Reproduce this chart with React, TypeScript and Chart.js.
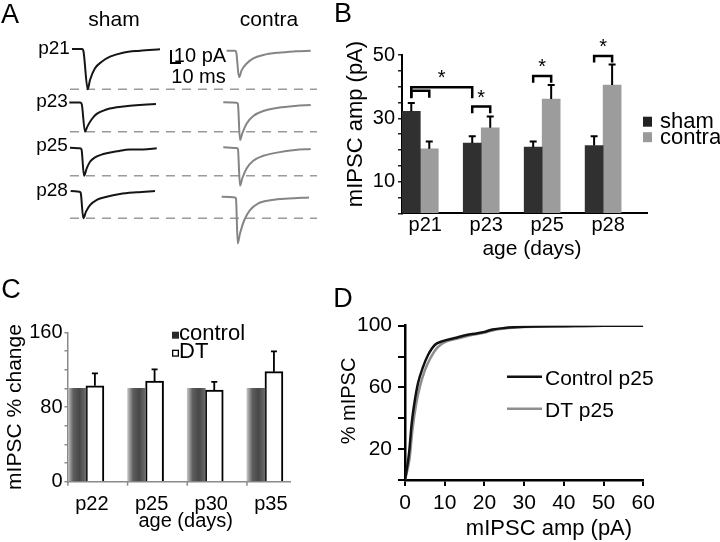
import React, { useEffect, useRef } from "react";
import { Chart, registerables } from "chart.js";

Chart.register(...registerables);

const FONT = '"Liberation Sans", Arial, Helvetica, sans-serif';
Chart.defaults.font.family = FONT;

// ---------------- Panel A: example mIPSC traces ----------------
// [time from trace start (ms), current relative to baseline (pA)]
type Pt = [number, number];
const traceRows = ["p21", "p23", "p25", "p28"];
const shamP21: Pt[] = [[0, 0], [10, 0], [11.5, -1.9], [15.7, -31], [18, -23.8], [23, -14.8], [29.7, -9.8], [38, -5.9], [51, -2.8], [68, -1.3], [88, -0.2]];
const shamP23: Pt[] = [[0, 0], [10.7, 0], [12.4, -1.2], [15.7, -22.5], [18, -18.6], [22.4, -12.9], [27.4, -8.8], [35.7, -5.8], [47.4, -3.7], [60.7, -2.5], [74, -1.7], [86.7, -1.2]];
const shamP25: Pt[] = [[0, 0], [10, -0.3], [11.5, -1.2], [14, -21.5], [16.7, -15.8], [20, -10.7], [25, -7.3], [33.3, -4.8], [46.7, -2.7], [60, -1.2], [73.3, -1.2], [86.7, -0.4]];
const shamP28: Pt[] = [[0, 0], [8.6, -0.5], [10, -1.5], [12.6, -21], [15.3, -15.9], [19.3, -10.8], [26, -6.9], [36, -4.4], [49.3, -2.3], [66, -1], [84.3, 0]];
const contraP21: Pt[] = [[0, 0], [8.3, 0], [9.5, -1], [12.3, -20.5], [15, -14.9], [20, -9.8], [26.6, -5.9], [36.6, -3.3], [51.6, -1.5], [68.3, -0.5], [84, 0]];
const contraP23: Pt[] = [[0, 0], [13.4, -0.3], [14.6, -1.2], [16.7, -29], [19, -23.8], [23.4, -16.2], [30, -10.5], [40, -6.7], [55, -4.2], [71.7, -2.8], [87.4, -2.1]];
const contraP25: Pt[] = [[0, 0], [13.4, -0.5], [14.6, -1.2], [16.7, -29.5], [19, -23.8], [23.4, -16.1], [30, -10.3], [40, -6.5], [55, -3.9], [71.7, -2.1], [87.4, -1.3]];
const contraP28: Pt[] = [[0, 0], [13.3, -0.5], [14.3, -1.5], [16, -35.9], [18.3, -28.2], [22.6, -17.9], [28.3, -10.3], [36.6, -5.1], [50, -2.5], [66.6, -1.3], [87.3, -0.5]];
const shamTraces = [shamP21, shamP23, shamP25, shamP28];
const contraTraces = [contraP21, contraP23, contraP25, contraP28];
const scaleBarMs = 10;
const scaleBarPA = 10;

// ---------------- Panel B ----------------
const ageB = ["p21", "p23", "p25", "p28"];
const shamAmp = [32.2, 22.2, 20.9, 21.4];
const shamSem = [2.6, 2.1, 1.8, 2.9];
const contraAmp = [20.4, 27.0, 36.1, 40.5];
const contraSem = [2.3, 3.6, 4.4, 6.5];
const yTickLabelsB = [10, 30, 50];
// significance brackets: [dataset, index] -> [dataset, index], bracket top and leg end (pA)
const sigBrackets = [
  { from: [0, 0], to: [1, 0], top: 38.7, leg: 36.5, star: false },
  { from: [0, 0], to: [0, 1], top: 39.8, leg: 36.3, star: true },
  { from: [0, 1], to: [1, 1], top: 33.7, leg: 31.6, star: true },
  { from: [0, 2], to: [1, 2], top: 43.4, leg: 41.2, star: true },
  { from: [0, 3], to: [1, 3], top: 49.7, leg: 47.6, star: true },
];

// ---------------- Panel C ----------------
const ageC = ["p22", "p25", "p30", "p35"];
const controlPct = [100, 100, 100, 100];
const dtPct = [102.8, 107.8, 98.2, 117.8];
const dtSem = [13.2, 12.5, 8.8, 21.8];
const yTickLabelsC = [0, 80, 160];

// ---------------- Panel D ----------------
const controlAmpD = [0, 1, 1.7, 2.5, 3.3, 4.5, 5.8, 7.5, 9.5, 12.5, 15.5, 18, 20, 22, 25, 30, 40, 50, 60];
const controlCum = [0, 17, 37, 52, 63, 73, 81, 87.5, 90, 92, 94, 95, 96, 97.5, 98.5, 99.3, 99.7, 100, 100];
const dtAmpD = [0, 1.1, 1.9, 2.8, 3.7, 5, 6.4, 8.2, 10.2, 13, 16, 18.5, 20.5, 22.5, 25.5, 30, 40, 50, 60];
const dtCum = [0, 13, 33, 49, 60, 71, 79, 86, 89.5, 91.5, 93.5, 94.8, 95.8, 97.2, 98.3, 99.2, 99.6, 99.9, 100];
const yTickLabelsD = [20, 60, 100];

// ---------------- layout (not data) ----------------
const shamStartMs = [72, 69.3, 70, 70.7];
const contraStartMs = [226.7, 223.3, 223.3, 221.7];
const shamBasePA = [-37.7, -78.8, -113.7, -146.9];
const contraBasePA = [-39, -78.7, -113.3, -151.3];
const dashFromMs = 70;
const dashToMs = 317;
const scaleBarOrigin = { x: 171, y: -48.5 };
const BAR_W = 18;

// ---------------- plugins ----------------
const errorBarPlugin = {
  id: "errorBars",
  afterDatasetsDraw(chart: any, _a: any, opts: any) {
    if (!opts || !opts.series) return;
    const ctx = chart.ctx;
    const ys = chart.scales.y;
    ctx.save();
    ctx.strokeStyle = opts.color || "#000";
    ctx.lineWidth = opts.width || 2;
    opts.series.forEach((s: any) => {
      const meta = chart.getDatasetMeta(s.dataset);
      const data = chart.data.datasets[s.dataset].data;
      meta.data.forEach((el: any, i: number) => {
        const top = ys.getPixelForValue(data[i].y + s.sem[i]);
        ctx.beginPath();
        ctx.moveTo(el.x, el.y);
        ctx.lineTo(el.x, top);
        ctx.moveTo(el.x - opts.cap / 2, top);
        ctx.lineTo(el.x + opts.cap / 2, top);
        ctx.stroke();
      });
    });
    ctx.restore();
  },
};

const bracketPlugin = {
  id: "sigBrackets",
  afterDatasetsDraw(chart: any, _a: any, opts: any) {
    if (!opts || !opts.items) return;
    const ctx = chart.ctx;
    const ys = chart.scales.y;
    ctx.save();
    ctx.strokeStyle = "#000";
    ctx.fillStyle = "#000";
    ctx.lineWidth = 2.5;
    ctx.lineJoin = "miter";
    ctx.font = `20px ${FONT}`;
    ctx.textAlign = "center";
    ctx.textBaseline = "alphabetic";
    opts.items.forEach((b: any) => {
      const xa = chart.getDatasetMeta(b.from[0]).data[b.from[1]].x;
      const xb = chart.getDatasetMeta(b.to[0]).data[b.to[1]].x;
      const yt = ys.getPixelForValue(b.top);
      const yl = ys.getPixelForValue(b.leg);
      ctx.beginPath();
      ctx.moveTo(xa, yl);
      ctx.lineTo(xa, yt);
      ctx.lineTo(xb, yt);
      ctx.lineTo(xb, yl);
      ctx.stroke();
      if (b.star) ctx.fillText("*", (xa + xb) / 2, yt - 3);
    });
    ctx.restore();
  },
};

const legendPlugin = {
  id: "panelLegend",
  afterDraw(chart: any, _a: any, o: any) {
    if (!o || !o.swatches) return;
    const ctx = chart.ctx;
    ctx.save();
    ctx.font = `${o.size}px ${FONT}`;
    ctx.textAlign = "left";
    ctx.textBaseline = "alphabetic";
    chart.data.datasets.forEach((ds: any, i: number) => {
      const sw = o.swatches[i];
      if (!sw) return;
      const base = o.y + i * o.dy;
      if (o.kind === "line") {
        ctx.strokeStyle = sw.stroke;
        ctx.lineWidth = 2.5;
        ctx.beginPath();
        ctx.moveTo(o.x, base - o.rise);
        ctx.lineTo(o.x + o.w, base - o.rise);
        ctx.stroke();
      } else {
        ctx.fillStyle = sw.fill;
        ctx.fillRect(o.x, base - o.rise, o.w, o.h);
        if (sw.stroke) {
          ctx.strokeStyle = sw.stroke;
          ctx.lineWidth = 1.3;
          ctx.strokeRect(o.x + 0.65, base - o.rise + 0.65, o.w - 1.3, o.h - 1.3);
        }
      }
      ctx.fillStyle = "#000";
      ctx.fillText(ds.label, o.textX, base);
    });
    ctx.restore();
  },
};

const groupTickPlugin = {
  id: "groupTicks",
  afterDraw(chart: any, _a: any, o: any) {
    if (!o || !o.enabled) return;
    const ctx = chart.ctx;
    const meta = chart.getDatasetMeta(0);
    const bottom = chart.chartArea.bottom;
    ctx.save();
    ctx.strokeStyle = o.color;
    ctx.lineWidth = 1.5;
    meta.data.forEach((el: any) => {
      const x = el.x - el.width / 2;
      ctx.beginPath();
      ctx.moveTo(x, bottom);
      ctx.lineTo(x, bottom + 4);
      ctx.stroke();
    });
    ctx.restore();
  },
};

// ---------------- chart builders ----------------
function buildA(): any {
  const datasets: any[] = [];
  const traceDs = (pts: Pt[], start: number, base: number, color: string) => ({
    data: pts.map(([t, v]) => ({ x: start + t, y: base + v })),
    borderColor: color,
    borderWidth: 2,
    pointRadius: 0,
    fill: false,
    cubicInterpolationMode: "monotone",
  });
  traceRows.forEach((_, i) => {
    datasets.push(traceDs(shamTraces[i], shamStartMs[i], shamBasePA[i], "#151515"));
    datasets.push(traceDs(contraTraces[i], contraStartMs[i], contraBasePA[i], "#858585"));
  });
  datasets.push({
    data: [
      { x: scaleBarOrigin.x, y: scaleBarOrigin.y + scaleBarPA },
      { x: scaleBarOrigin.x, y: scaleBarOrigin.y },
      { x: scaleBarOrigin.x + scaleBarMs, y: scaleBarOrigin.y },
    ],
    borderColor: "#000",
    borderWidth: 2,
    pointRadius: 0,
    tension: 0,
  });
  traceRows.forEach((_, i) => {
    const level = shamBasePA[i] + Math.min(...shamTraces[i].map((p) => p[1]));
    datasets.push({
      data: [
        { x: dashFromMs, y: level },
        { x: dashToMs, y: level },
      ],
      borderColor: "#9a9a9a",
      borderWidth: 1.5,
      borderDash: [9, 7],
      pointRadius: 0,
    });
  });
  return {
    type: "line",
    data: { datasets },
    options: {
      animation: false,
      responsive: false,
      events: [],
      layout: { padding: 0 },
      plugins: { legend: { display: false }, tooltip: { enabled: false } },
      scales: {
        x: { type: "linear", display: false, min: 0, max: 340 },
        y: { type: "linear", display: false, min: -201.5, max: 0 },
      },
    },
  };
}

function buildB(): any {
  return {
    type: "bar",
    data: {
      datasets: [
        { label: "sham", data: shamAmp.map((y, i) => ({ x: i, y })), backgroundColor: "#303030", barThickness: BAR_W },
        { label: "contra", data: contraAmp.map((y, i) => ({ x: i, y })), backgroundColor: "#9c9c9c", barThickness: BAR_W },
      ],
    },
    options: {
      animation: false,
      responsive: false,
      events: [],
      layout: { padding: { left: 0, right: 73, top: 55, bottom: 0 } },
      plugins: {
        legend: { display: false },
        tooltip: { enabled: false },
        errorBars: {
          series: [
            { dataset: 0, sem: shamSem },
            { dataset: 1, sem: contraSem },
          ],
          cap: 7,
          width: 2,
          color: "#000",
        },
        sigBrackets: { items: sigBrackets },
        panelLegend: {
          kind: "box",
          swatches: [{ fill: "#222" }, { fill: "#9a9a9a" }],
          x: 298,
          y: 128,
          dy: 15.5,
          w: 9,
          h: 10,
          rise: 11.3,
          textX: 315,
          size: 22,
        },
      },
      scales: {
        x: {
          type: "linear",
          min: -0.3,
          max: 3.72,
          offset: false,
          afterBuildTicks: (s: any) => {
            s.ticks = ageB.map((_, i) => ({ value: i }));
          },
          ticks: {
            callback: (v: any) => ageB[Math.round(Number(v))] ?? "",
            font: { size: 20 },
            color: "#000",
            padding: 0,
            labelOffset: 5,
            maxRotation: 0,
            autoSkip: false,
          },
          grid: { display: false, drawTicks: false, offset: false },
          border: { color: "#000", width: 2 },
          afterFit: (s: any) => {
            s.height = 56.7;
          },
        },
        y: {
          min: 0,
          max: 50,
          ticks: {
            stepSize: 5,
            autoSkip: false,
            callback: (v: any) => (yTickLabelsB.includes(Number(v)) ? String(v) : ""),
            font: { size: 20 },
            color: "#000",
            padding: 3,
          },
          grid: { drawOnChartArea: false, tickLength: 4, color: "#222", lineWidth: 1.5 },
          border: { color: "#000", width: 2 },
          afterFit: (s: any) => {
            s.width = 57;
          },
        },
      },
    },
    plugins: [errorBarPlugin, bracketPlugin, legendPlugin],
  };
}

function buildC(): any {
  const controlFill = (c: any) => {
    const chart = c.chart;
    const xs = chart.scales && chart.scales.x;
    if (!xs || c.dataIndex == null || c.type !== "data") return "#555";
    const cx = xs.getPixelForValue(c.dataIndex);
    if (!isFinite(cx)) return "#555";
    const g = chart.ctx.createLinearGradient(cx - BAR_W, 0, cx, 0);
    g.addColorStop(0, "#c2c2c2");
    g.addColorStop(0.3, "#5e5e5e");
    g.addColorStop(0.65, "#474747");
    g.addColorStop(1, "#6c6c6c");
    return g;
  };
  return {
    type: "bar",
    data: {
      datasets: [
        { label: "control", data: controlPct.map((y, i) => ({ x: i, y })), backgroundColor: controlFill, borderWidth: 0, barThickness: BAR_W },
        { label: "DT", data: dtPct.map((y, i) => ({ x: i, y })), backgroundColor: "#fff", borderColor: "#000", borderWidth: 2, barThickness: BAR_W },
      ],
    },
    options: {
      animation: false,
      responsive: false,
      events: [],
      layout: { padding: { left: 0, right: 55, top: 62.3, bottom: 0 } },
      plugins: {
        legend: { display: false },
        tooltip: { enabled: false },
        errorBars: { series: [{ dataset: 1, sem: dtSem }], cap: 6, width: 1.8, color: "#000" },
        groupTicks: { enabled: true, color: "#8a8a8a" },
        panelLegend: {
          kind: "box",
          swatches: [{ fill: "#2a2a2a" }, { fill: "#fff", stroke: "#000" }],
          x: 172,
          y: 70,
          dy: 18,
          w: 7,
          h: 7,
          rise: 8.3,
          textX: 179,
          size: 22,
        },
      },
      scales: {
        x: {
          type: "linear",
          min: -0.3,
          max: 3.42,
          offset: false,
          afterBuildTicks: (s: any) => {
            s.ticks = ageC.map((_, i) => ({ value: i }));
          },
          ticks: {
            callback: (v: any) => ageC[Math.round(Number(v))] ?? "",
            font: { size: 20 },
            color: "#000",
            padding: 11,
            labelOffset: 6,
            maxRotation: 0,
            autoSkip: false,
          },
          grid: { display: false, drawTicks: false, offset: false },
          border: { color: "#8a8a8a", width: 1.5 },
          afterFit: (s: any) => {
            s.height = 60.3;
          },
        },
        y: {
          min: 0,
          max: 160,
          ticks: {
            stepSize: 20,
            autoSkip: false,
            callback: (v: any) => (yTickLabelsC.includes(Number(v)) ? String(v) : ""),
            font: { size: 20 },
            color: "#000",
            padding: 2,
          },
          grid: { drawOnChartArea: false, tickLength: 3.5, color: "#8a8a8a", lineWidth: 1.5 },
          border: { color: "#8a8a8a", width: 1.5 },
          afterFit: (s: any) => {
            s.width = 68;
          },
        },
      },
    },
    plugins: [errorBarPlugin, groupTickPlugin, legendPlugin],
  };
}

function buildD(): any {
  return {
    type: "line",
    data: {
      datasets: [
        {
          label: "Control p25",
          data: controlAmpD.map((x, i) => ({ x, y: controlCum[i] })),
          borderColor: "#111",
          borderWidth: 2.5,
          pointRadius: 0,
          cubicInterpolationMode: "monotone",
        },
        {
          label: "DT p25",
          data: dtAmpD.map((x, i) => ({ x, y: dtCum[i] })),
          borderColor: "#8e8e8e",
          borderWidth: 2.5,
          pointRadius: 0,
          cubicInterpolationMode: "monotone",
        },
      ],
    },
    options: {
      animation: false,
      responsive: false,
      events: [],
      layout: { padding: { left: 0, right: 76.7, top: 55.7, bottom: 0 } },
      plugins: {
        legend: { display: false },
        tooltip: { enabled: false },
        panelLegend: {
          kind: "line",
          swatches: [{ stroke: "#111" }, { stroke: "#8e8e8e" }],
          x: 162,
          y: 115,
          dy: 32,
          w: 35,
          rise: 8.3,
          textX: 200,
          size: 21,
        },
      },
      scales: {
        x: {
          type: "linear",
          min: 0,
          max: 60,
          ticks: { stepSize: 10, font: { size: 21 }, color: "#000", padding: 5, maxRotation: 0, autoSkip: false },
          grid: { drawOnChartArea: false, tickLength: 6, color: "#000", lineWidth: 2 },
          border: { color: "#000", width: 2.5 },
          afterFit: (s: any) => {
            s.height = 62;
          },
        },
        y: {
          min: 0,
          max: 100,
          ticks: {
            stepSize: 20,
            autoSkip: false,
            callback: (v: any) => (yTickLabelsD.includes(Number(v)) ? String(v) : ""),
            font: { size: 21 },
            color: "#000",
            padding: 6,
          },
          grid: { drawOnChartArea: false, tickLength: 7, color: "#000", lineWidth: 2 },
          border: { color: "#000", width: 2.5 },
          afterFit: (s: any) => {
            s.width = 60;
          },
        },
      },
    },
    plugins: [legendPlugin],
  };
}

// ---------------- components ----------------
function ChartCanvas({ left, top, width, height, build }: { left: number; top: number; width: number; height: number; build: () => any }) {
  const ref = useRef<HTMLCanvasElement>(null);
  useEffect(() => {
    const chart = new Chart(ref.current as HTMLCanvasElement, build());
    return () => chart.destroy();
  }, []);
  return <canvas ref={ref} width={width} height={height} style={{ position: "absolute", left, top, width, height }} />;
}

function Txt({ x, y, size, rot, children }: { x: number; y: number; size: number; rot?: boolean; children: React.ReactNode }) {
  return (
    <div
      style={{
        position: "absolute",
        left: x,
        top: y,
        transform: `translate(-50%, -50%)${rot ? " rotate(-90deg)" : ""}`,
        fontSize: size,
        lineHeight: 1,
        whiteSpace: "nowrap",
        fontFamily: FONT,
        color: "#000",
      }}
    >
      {children}
    </div>
  );
}

const rowLabelY = [46.5, 100, 144, 189];
const rowLabelX = [54, 52, 52, 52];

export default function App() {
  return (
    <div style={{ position: "fixed", left: 0, top: 0, width: 720, height: 542, background: "#fff", overflow: "hidden" }}>
      <ChartCanvas left={0} top={0} width={340} height={262} build={buildA} />
      <ChartCanvas left={345} top={0} width={375} height={270} build={buildB} />
      <ChartCanvas left={0} top={270} width={345} height={272} build={buildC} />
      <ChartCanvas left={345} top={270} width={375} height={272} build={buildD} />

      {/* panel letters */}
      <Txt x={10} y={13.5} size={27}>A</Txt>
      <Txt x={343} y={13} size={27}>B</Txt>
      <Txt x={11} y={288.5} size={27}>C</Txt>
      <Txt x={343} y={298} size={27}>D</Txt>

      {/* panel A labels */}
      <Txt x={114} y={17.6} size={21}>sham</Txt>
      <Txt x={269} y={17.6} size={21}>contra</Txt>
      {traceRows.map((r, i) => (
        <Txt key={r} x={rowLabelX[i]} y={rowLabelY[i]} size={19}>
          {r}
        </Txt>
      ))}
      <Txt x={200} y={55} size={20}>{`${scaleBarPA} pA`}</Txt>
      <Txt x={198.5} y={75.5} size={20}>{`${scaleBarMs} ms`}</Txt>

      {/* axis titles */}
      <Txt x={355} y={124} size={22} rot>mIPSC amp (pA)</Txt>
      <Txt x={532} y={247} size={21}>age (days)</Txt>
      <Txt x={12.6} y={406.5} size={21} rot>mIPSC % change</Txt>
      <Txt x={185.7} y={520} size={20}>age (days)</Txt>
      <Txt x={348} y={401} size={20} rot>% mIPSC</Txt>
      <Txt x={549} y={528} size={22}>mIPSC amp (pA)</Txt>
    </div>
  );
}
